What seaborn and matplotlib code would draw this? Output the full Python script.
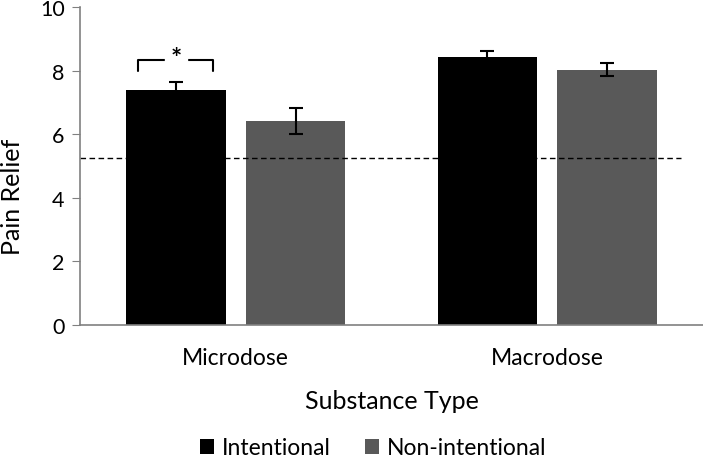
import pandas as pd
import numpy as np
import matplotlib
matplotlib.use("Agg")
import matplotlib.pyplot as plt
from matplotlib.patches import Patch
import seaborn as sns

# data
substances = ["Microdose", "Macrodose"]
conditions = ["Intentional", "Non-intentional"]
intentional_mean = [7.40, 8.42]
intentional_err = [0.23, 0.20]
nonintentional_mean = [6.42, 8.03]
nonintentional_err = [0.40, 0.21]
baseline = 5.25
colors = ["#000000", "#595959"]

df = pd.DataFrame({
    "Substance Type": substances * 2,
    "Condition": [conditions[0]] * 2 + [conditions[1]] * 2,
    "Pain Relief": intentional_mean + nonintentional_mean,
    "err": intentional_err + nonintentional_err,
})

sns.set_style("white")
plt.rcParams["font.family"] = ["Lato", "DejaVu Sans"]
plt.rcParams["text.color"] = "black"
plt.rcParams["axes.labelcolor"] = "black"
plt.rcParams["xtick.color"] = "black"
plt.rcParams["ytick.color"] = "black"

fig = plt.figure(figsize=(7.03, 4.64), dpi=100)
ax = fig.add_axes([80 / 703, 138 / 464, 623 / 703, 318 / 464])

sns.barplot(data=df, x="Substance Type", y="Pain Relief", hue="Condition",
            order=substances, hue_order=conditions, palette=colors,
            width=0.77, gap=0.17, errorbar=None, legend=False, ax=ax,
            edgecolor="none")

# error bars on each bar
for cont, cond in zip(ax.containers, conditions):
    sub = df[df["Condition"] == cond].set_index("Substance Type").loc[substances]
    xs = [p.get_x() + p.get_width() / 2 for p in cont]
    ax.errorbar(xs, sub["Pain Relief"], yerr=sub["err"], fmt="none",
                ecolor="black", elinewidth=1.5, capsize=4.7, capthick=1.5)

# dashed reference line
ax.hlines(baseline, -0.5, 1.43, colors="black", linestyles=(0, (4, 2.5)), linewidth=1)

# significance bracket over the intentional microdose bar
b = ax.containers[0][0]
cx = b.get_x() + b.get_width() / 2
ax.plot([cx - 0.12, cx - 0.12, cx + 0.12, cx + 0.12], [7.99, 8.34, 8.34, 7.99],
        color="black", linewidth=1.5)
ax.text(cx, 8.40, "*", ha="center", va="center", fontsize=19, fontweight="bold",
        backgroundcolor="white")

ax.set_xlim(-0.5, 1.5)
ax.set_ylim(0, 10)
ax.set_yticks(np.arange(0, 11, 2))
for s in ["top", "right"]:
    ax.spines[s].set_visible(False)
for s in ["left", "bottom"]:
    ax.spines[s].set_color("#808080")
    ax.spines[s].set_linewidth(1.2)
ax.tick_params(axis="y", which="both", left=True, length=6, color="#808080",
               labelsize=15.5, pad=5)
ax.tick_params(axis="x", length=0, labelsize=16.5, pad=16)
ax.set_xlabel("Substance Type", fontsize=18, labelpad=15)
ax.set_ylabel("Pain Relief", fontsize=18)
ax.yaxis.set_label_coords(-0.09, 0.405)

handles = [Patch(facecolor=c, edgecolor="none") for c in colors]
fig.legend(handles, conditions, loc="center", bbox_to_anchor=(373 / 703, 1 - 449 / 464),
           ncol=2, frameon=False, fontsize=16.5, handlelength=0.6, handleheight=0.6,
           handletextpad=0.35, columnspacing=1.5)

fig.savefig("out.png", dpi=100)
